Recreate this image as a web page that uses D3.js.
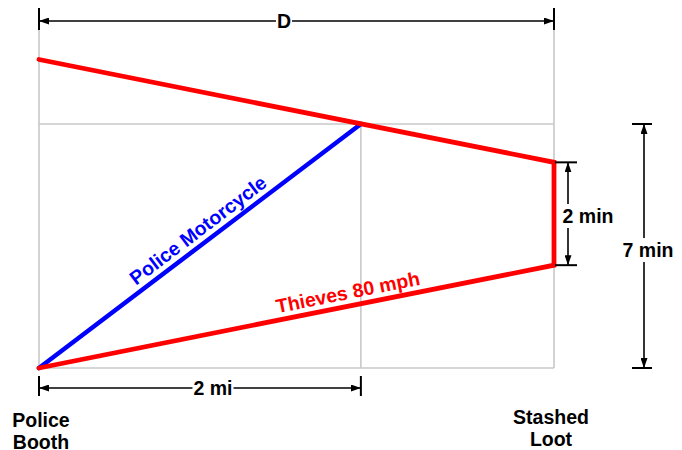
<!DOCTYPE html>
<html>
<head>
<meta charset="utf-8">
<script src="https://cdn.jsdelivr.net/npm/d3@7"></script>
<style>
  html, body { margin: 0; padding: 0; background: #fff; }
  svg { display: block; font-family: "Liberation Sans", Arial, sans-serif; font-weight: bold; }
</style>
</head>
<body>
<svg id="chart" width="682" height="450"></svg>
<script>
// ── data (miles along the road, minutes of clock time) ──
const placeNames = [["Police", "Booth"], ["Stashed", "Loot"]];
const placeMiles = [0, 3.2];
const meetMile = 2;
const meetMin = 7;
const thievesPath = [[0, 0], [3.2, 2.95], [3.2, 5.9], [0, 8.85]];
const policePath = [[0, 0], [2, 7]];
const gridMiles = [0, 2, 3.2];
const gridMins = [0, 7];

const RED = "#ff0000", BLUE = "#0000ff", GREY = "#c8c8c8";
const FS = 19.5;

const svg = d3.select("#chart");
const x = d3.scaleLinear().domain([0, 3.2]).range([39, 554]);
const y = d3.scaleLinear().domain([0, 7]).range([368, 124]);

// arrowhead
svg.append("defs").append("marker")
  .attr("id", "ah").attr("markerUnits", "userSpaceOnUse")
  .attr("viewBox", "0 0 10 7").attr("markerWidth", 10).attr("markerHeight", 7)
  .attr("refX", 10).attr("refY", 3.5).attr("orient", "auto-start-reverse")
  .append("path").attr("d", "M0,0L10,3.5L0,7Z").attr("fill", "#000");

// ── grid ──
const grid = svg.append("g").attr("stroke", GREY).attr("stroke-width", 1.6);
gridMiles.forEach(m => {
  const top = m === meetMile ? y(meetMin) : 21;
  grid.append("line").attr("x1", x(m)).attr("x2", x(m)).attr("y1", top).attr("y2", y(0));
});
gridMins.forEach(t => {
  grid.append("line").attr("x1", x(0)).attr("x2", x(placeMiles[1])).attr("y1", y(t)).attr("y2", y(t));
});

// ── paths ──
const line = d3.line().x(d => x(d[0])).y(d => y(d[1]));
svg.append("path").attr("d", line(policePath))
  .attr("fill", "none").attr("stroke", BLUE).attr("stroke-width", 4.5).attr("stroke-linecap", "round");
svg.append("path").attr("d", line(thievesPath))
  .attr("fill", "none").attr("stroke", RED).attr("stroke-width", 4.8)
  .attr("stroke-linecap", "round").attr("stroke-linejoin", "miter");

// label running along a segment
function alongLabel(p0, p1, frac, txt, col) {
  const ax = x(p0[0]), ay = y(p0[1]), bx = x(p1[0]), by = y(p1[1]);
  const ang = Math.atan2(by - ay, bx - ax) * 180 / Math.PI;
  const cx = ax + (bx - ax) * frac, cy = ay + (by - ay) * frac;
  svg.append("text")
    .attr("transform", `translate(${cx},${cy}) rotate(${ang})`)
    .attr("y", -7).attr("text-anchor", "middle")
    .attr("font-size", FS).attr("fill", col).text(txt);
}
alongLabel(policePath[0], policePath[1], 0.52, "Police Motorcycle", BLUE);
alongLabel(thievesPath[0], thievesPath[1], 0.605, "Thieves 80 mph", RED);

// ── dimension arrows ──
const dim = svg.append("g");
function dimLabel(lx, ly, label, padX, padY) {
  const t = dim.append("text").attr("x", lx).attr("y", ly).attr("dy", "0.36em")
    .attr("text-anchor", "middle").attr("font-size", FS).attr("fill", "#000").text(label);
  const b = t.node().getBBox();
  dim.insert("rect", () => t.node()).attr("x", b.x - padX).attr("y", b.y - padY)
    .attr("width", b.width + 2 * padX).attr("height", b.height + 2 * padY).attr("fill", "#fff");
}
function dimH(x0, x1, yy, t0, t1, label, lx) {
  dim.append("line").attr("x1", x0).attr("x2", x1).attr("y1", yy).attr("y2", yy)
    .attr("stroke", "#000").attr("stroke-width", 1.6)
    .attr("marker-start", "url(#ah)").attr("marker-end", "url(#ah)");
  [x0, x1].forEach(xx => dim.append("line").attr("x1", xx).attr("x2", xx)
    .attr("y1", t0).attr("y2", t1).attr("stroke", "#000").attr("stroke-width", 2));
  dimLabel(lx, yy, label, 1, -2);
}
function dimV(y0, y1, xx, t0, t1, label, lx, ly) {
  dim.append("line").attr("x1", xx).attr("x2", xx).attr("y1", y0).attr("y2", y1)
    .attr("stroke", "#000").attr("stroke-width", 1.6)
    .attr("marker-start", "url(#ah)").attr("marker-end", "url(#ah)");
  [y0, y1].forEach(v => dim.append("line").attr("x1", t0).attr("x2", t1)
    .attr("y1", v).attr("y2", v).attr("stroke", "#000").attr("stroke-width", 2));
  dimLabel(lx, ly, label, 0, 1);
}
dimH(x(placeMiles[0]), x(placeMiles[1]), 21, 8, 30, "D", 284);
dimH(x(0), x(meetMile), 388, 376, 396, "2 mi", 213);
dimV(y(thievesPath[2][1]), y(thievesPath[1][1]), 568, 555, 577, "2 min", 588, 216);
dimV(y(meetMin), y(0), 644, 632, 652, "7 min", 648, 250);

// ── place names ──
placeMiles.forEach((m, i) => {
  const t = svg.append("text").attr("text-anchor", "middle").attr("font-size", FS)
    .attr("fill", "#000");
  const cx = x(m) + (i === 0 ? 2 : -3);
  const base = i === 0 ? 427 : 424;
  placeNames[i].forEach((s, j) => t.append("tspan").attr("x", cx).attr("y", base + j * 21.5).text(s));
});
</script>
</body>
</html>
